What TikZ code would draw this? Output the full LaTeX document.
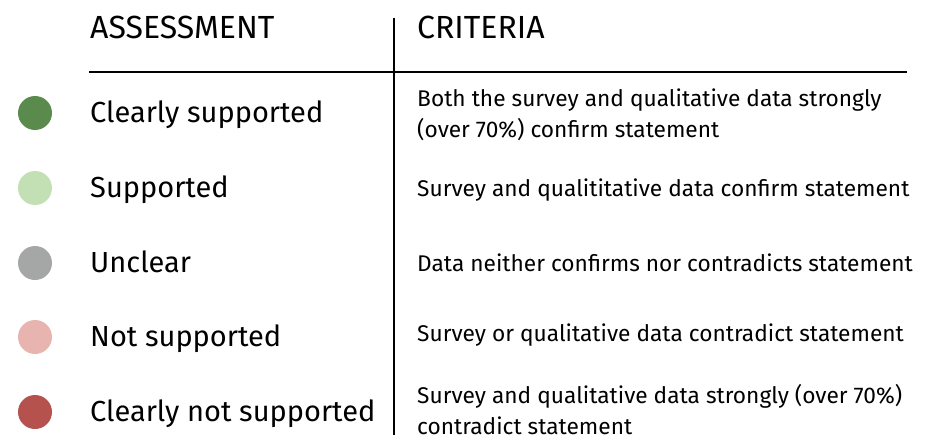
\documentclass[tikz,border=0pt]{standalone}
\usepackage{fontspec}
\setmainfont{Fira Sans}
\definecolor{cgreen}{HTML}{5A8B4C}
\definecolor{lgreen}{HTML}{C3E0B4}
\definecolor{cgrey}{HTML}{A5A7A6}
\definecolor{lred}{HTML}{E8B4B0}
\definecolor{cred}{HTML}{B5524D}
\begin{document}
\begin{tikzpicture}[x=1pt,y=-1pt,
  dot/.style={circle,inner sep=0pt,minimum size=34pt},
  head/.style={anchor=base west,inner sep=0pt,font=\fontsize{32}{36}\selectfont},
  assess/.style={anchor=base west,inner sep=0pt,font=\fontsize{29}{34}\selectfont},
  crit/.style={anchor=base west,inner sep=0pt,align=left,font=\fontsize{22.7}{31}\selectfont},
  crittwo/.style={crit,anchor=west}]
\useasboundingbox (0,0) rectangle (928,441);
\draw (90,39) node[head] (Hass) {ASSESSMENT};
\draw (417,39) node[head] (Hcrit) {CRITERIA};
\coordinate (Vtop) at (394,18);
\coordinate (Vbot) at (394,435);
\coordinate (Hl) at (89,72);
\coordinate (Hr) at (907,72);
\draw[line width=2pt] (Vtop) -- (Vbot);
\draw[line width=2pt] (Hl) -- (Hr);
% rows
\draw (35,113) node[dot,fill=cgreen] (D1) {};
\draw (90,122) node[assess] (A1) {Clearly supported};
\draw (417,115) node[crittwo] (C1) {Both the survey and qualitative data strongly\\(over 70\%) confirm statement};
\draw (35,188) node[dot,fill=lgreen] (D2) {};
\draw (90,197) node[assess] (A2) {Supported};
\draw (417,196) node[crit] (C2) {Survey and qualititative data confirm statement};
\draw (35,263) node[dot,fill=cgrey] (D3) {};
\draw (90,272) node[assess] (A3) {Unclear};
\draw (417,271) node[crit] (C3) {Data neither confirms nor contradicts statement};
\draw (35,337) node[dot,fill=lred] (D4) {};
\draw (90,346) node[assess] (A4) {Not supported};
\draw (417,341) node[crit] (C4) {Survey or qualitative data contradict statement};
\draw (35,412) node[dot,fill=cred] (D5) {};
\draw (90,421) node[assess] (A5) {Clearly not supported};
\draw (417,410) node[crittwo] (C5) {Survey and qualitative data strongly (over 70\%)\\contradict statement};
\end{tikzpicture}
\end{document}
